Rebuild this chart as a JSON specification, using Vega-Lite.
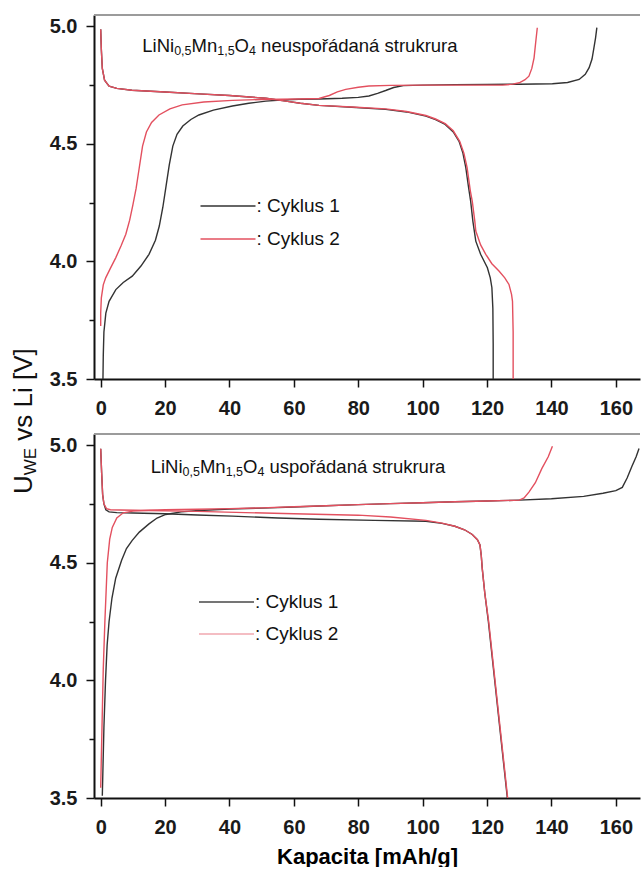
{
  "$schema": "https://vega.github.io/schema/vega-lite/v6.json",
  "autosize": {"type": "pad"},
  "padding": {"left": 10, "top": 14, "right": 0, "bottom": 0},
  "background": "white",
  "spacing": 55,
  "bounds": "flush",
  "config": {
    "view": {"stroke": null},
    "font": "Liberation Sans",
    "axis": {
      "grid": false,
      "domainColor": "#111111",
      "domainWidth": 2,
      "tickColor": "#111111",
      "tickWidth": 1.5,
      "labelFont": "Liberation Sans",
      "labelFontSize": 20,
      "labelFontWeight": "bold",
      "labelColor": "#1a1a1a",
      "labelOverlap": false,
      "labelFlush": false,
      "titleFont": "Liberation Sans"
    },
    "legend": {"padding": 0}
  },
  "resolve": {"scale": {"color": "independent"}, "legend": {"color": "independent"}},
  "datasets": {
    "neusp": [
      {"cyklus": "Cyklus 1", "vetev": "nabíjení", "kapacita": 0.7, "napeti": 3.5},
      {"cyklus": "Cyklus 1", "vetev": "nabíjení", "kapacita": 0.8, "napeti": 3.6},
      {"cyklus": "Cyklus 1", "vetev": "nabíjení", "kapacita": 1.0, "napeti": 3.7},
      {"cyklus": "Cyklus 1", "vetev": "nabíjení", "kapacita": 1.6, "napeti": 3.78},
      {"cyklus": "Cyklus 1", "vetev": "nabíjení", "kapacita": 2.6, "napeti": 3.83},
      {"cyklus": "Cyklus 1", "vetev": "nabíjení", "kapacita": 4.7, "napeti": 3.88},
      {"cyklus": "Cyklus 1", "vetev": "nabíjení", "kapacita": 7.0, "napeti": 3.91},
      {"cyklus": "Cyklus 1", "vetev": "nabíjení", "kapacita": 9.8, "napeti": 3.937},
      {"cyklus": "Cyklus 1", "vetev": "nabíjení", "kapacita": 12.5, "napeti": 3.98},
      {"cyklus": "Cyklus 1", "vetev": "nabíjení", "kapacita": 15.0, "napeti": 4.03},
      {"cyklus": "Cyklus 1", "vetev": "nabíjení", "kapacita": 17.0, "napeti": 4.09},
      {"cyklus": "Cyklus 1", "vetev": "nabíjení", "kapacita": 18.2, "napeti": 4.15},
      {"cyklus": "Cyklus 1", "vetev": "nabíjení", "kapacita": 19.3, "napeti": 4.23},
      {"cyklus": "Cyklus 1", "vetev": "nabíjení", "kapacita": 20.3, "napeti": 4.32},
      {"cyklus": "Cyklus 1", "vetev": "nabíjení", "kapacita": 21.3, "napeti": 4.41},
      {"cyklus": "Cyklus 1", "vetev": "nabíjení", "kapacita": 22.4, "napeti": 4.49},
      {"cyklus": "Cyklus 1", "vetev": "nabíjení", "kapacita": 23.7, "napeti": 4.54},
      {"cyklus": "Cyklus 1", "vetev": "nabíjení", "kapacita": 25.5, "napeti": 4.575},
      {"cyklus": "Cyklus 1", "vetev": "nabíjení", "kapacita": 28.0, "napeti": 4.603},
      {"cyklus": "Cyklus 1", "vetev": "nabíjení", "kapacita": 30.5, "napeti": 4.622},
      {"cyklus": "Cyklus 1", "vetev": "nabíjení", "kapacita": 35.0, "napeti": 4.643},
      {"cyklus": "Cyklus 1", "vetev": "nabíjení", "kapacita": 40.9, "napeti": 4.66},
      {"cyklus": "Cyklus 1", "vetev": "nabíjení", "kapacita": 46.0, "napeti": 4.672},
      {"cyklus": "Cyklus 1", "vetev": "nabíjení", "kapacita": 51.3, "napeti": 4.681},
      {"cyklus": "Cyklus 1", "vetev": "nabíjení", "kapacita": 56.0, "napeti": 4.686},
      {"cyklus": "Cyklus 1", "vetev": "nabíjení", "kapacita": 61.6, "napeti": 4.689},
      {"cyklus": "Cyklus 1", "vetev": "nabíjení", "kapacita": 67.8, "napeti": 4.69},
      {"cyklus": "Cyklus 1", "vetev": "nabíjení", "kapacita": 75.0, "napeti": 4.693},
      {"cyklus": "Cyklus 1", "vetev": "nabíjení", "kapacita": 80.0, "napeti": 4.697},
      {"cyklus": "Cyklus 1", "vetev": "nabíjení", "kapacita": 83.3, "napeti": 4.703},
      {"cyklus": "Cyklus 1", "vetev": "nabíjení", "kapacita": 86.0, "napeti": 4.714},
      {"cyklus": "Cyklus 1", "vetev": "nabíjení", "kapacita": 88.5, "napeti": 4.726},
      {"cyklus": "Cyklus 1", "vetev": "nabíjení", "kapacita": 91.0, "napeti": 4.739},
      {"cyklus": "Cyklus 1", "vetev": "nabíjení", "kapacita": 94.0, "napeti": 4.747},
      {"cyklus": "Cyklus 1", "vetev": "nabíjení", "kapacita": 100.0, "napeti": 4.749},
      {"cyklus": "Cyklus 1", "vetev": "nabíjení", "kapacita": 110.0, "napeti": 4.751},
      {"cyklus": "Cyklus 1", "vetev": "nabíjení", "kapacita": 120.0, "napeti": 4.752},
      {"cyklus": "Cyklus 1", "vetev": "nabíjení", "kapacita": 130.0, "napeti": 4.753},
      {"cyklus": "Cyklus 1", "vetev": "nabíjení", "kapacita": 140.3, "napeti": 4.755},
      {"cyklus": "Cyklus 1", "vetev": "nabíjení", "kapacita": 145.0, "napeti": 4.76},
      {"cyklus": "Cyklus 1", "vetev": "nabíjení", "kapacita": 148.6, "napeti": 4.773},
      {"cyklus": "Cyklus 1", "vetev": "nabíjení", "kapacita": 150.5, "napeti": 4.795},
      {"cyklus": "Cyklus 1", "vetev": "nabíjení", "kapacita": 151.7, "napeti": 4.823},
      {"cyklus": "Cyklus 1", "vetev": "nabíjení", "kapacita": 152.6, "napeti": 4.86},
      {"cyklus": "Cyklus 1", "vetev": "nabíjení", "kapacita": 153.2, "napeti": 4.908},
      {"cyklus": "Cyklus 1", "vetev": "nabíjení", "kapacita": 153.7, "napeti": 4.95},
      {"cyklus": "Cyklus 1", "vetev": "nabíjení", "kapacita": 154.1, "napeti": 4.993},

      {"cyklus": "Cyklus 1", "vetev": "vybíjení", "kapacita": 0.0, "napeti": 4.986},
      {"cyklus": "Cyklus 1", "vetev": "vybíjení", "kapacita": 0.2, "napeti": 4.9},
      {"cyklus": "Cyklus 1", "vetev": "vybíjení", "kapacita": 0.5, "napeti": 4.82},
      {"cyklus": "Cyklus 1", "vetev": "vybíjení", "kapacita": 1.2, "napeti": 4.77},
      {"cyklus": "Cyklus 1", "vetev": "vybíjení", "kapacita": 2.6, "napeti": 4.745},
      {"cyklus": "Cyklus 1", "vetev": "vybíjení", "kapacita": 5.0, "napeti": 4.735},
      {"cyklus": "Cyklus 1", "vetev": "vybíjení", "kapacita": 9.7, "napeti": 4.727},
      {"cyklus": "Cyklus 1", "vetev": "vybíjení", "kapacita": 20.0, "napeti": 4.72},
      {"cyklus": "Cyklus 1", "vetev": "vybíjení", "kapacita": 30.5, "napeti": 4.712},
      {"cyklus": "Cyklus 1", "vetev": "vybíjení", "kapacita": 40.0, "napeti": 4.705},
      {"cyklus": "Cyklus 1", "vetev": "vybíjení", "kapacita": 51.3, "napeti": 4.693},
      {"cyklus": "Cyklus 1", "vetev": "vybíjení", "kapacita": 57.5, "napeti": 4.681},
      {"cyklus": "Cyklus 1", "vetev": "vybíjení", "kapacita": 62.0, "napeti": 4.672},
      {"cyklus": "Cyklus 1", "vetev": "vybíjení", "kapacita": 67.8, "napeti": 4.663},
      {"cyklus": "Cyklus 1", "vetev": "vybíjení", "kapacita": 78.0, "napeti": 4.655},
      {"cyklus": "Cyklus 1", "vetev": "vybíjení", "kapacita": 88.5, "napeti": 4.646},
      {"cyklus": "Cyklus 1", "vetev": "vybíjení", "kapacita": 95.0, "napeti": 4.635},
      {"cyklus": "Cyklus 1", "vetev": "vybíjení", "kapacita": 101.0, "napeti": 4.617},
      {"cyklus": "Cyklus 1", "vetev": "vybíjení", "kapacita": 104.0, "napeti": 4.602},
      {"cyklus": "Cyklus 1", "vetev": "vybíjení", "kapacita": 107.0, "napeti": 4.582},
      {"cyklus": "Cyklus 1", "vetev": "vybíjení", "kapacita": 109.5, "napeti": 4.55},
      {"cyklus": "Cyklus 1", "vetev": "vybíjení", "kapacita": 111.3, "napeti": 4.51},
      {"cyklus": "Cyklus 1", "vetev": "vybíjení", "kapacita": 112.5, "napeti": 4.46},
      {"cyklus": "Cyklus 1", "vetev": "vybíjení", "kapacita": 113.4, "napeti": 4.398},
      {"cyklus": "Cyklus 1", "vetev": "vybíjení", "kapacita": 114.2, "napeti": 4.32},
      {"cyklus": "Cyklus 1", "vetev": "vybíjení", "kapacita": 114.9, "napeti": 4.256},
      {"cyklus": "Cyklus 1", "vetev": "vybíjení", "kapacita": 115.6, "napeti": 4.17},
      {"cyklus": "Cyklus 1", "vetev": "vybíjení", "kapacita": 116.5, "napeti": 4.086},
      {"cyklus": "Cyklus 1", "vetev": "vybíjení", "kapacita": 118.0, "napeti": 4.03},
      {"cyklus": "Cyklus 1", "vetev": "vybíjení", "kapacita": 120.1, "napeti": 3.973},
      {"cyklus": "Cyklus 1", "vetev": "vybíjení", "kapacita": 121.0, "napeti": 3.93},
      {"cyklus": "Cyklus 1", "vetev": "vybíjení", "kapacita": 121.5, "napeti": 3.888},
      {"cyklus": "Cyklus 1", "vetev": "vybíjení", "kapacita": 121.8, "napeti": 3.8},
      {"cyklus": "Cyklus 1", "vetev": "vybíjení", "kapacita": 121.9, "napeti": 3.65},
      {"cyklus": "Cyklus 1", "vetev": "vybíjení", "kapacita": 121.9, "napeti": 3.5},

      {"cyklus": "Cyklus 2", "vetev": "nabíjení", "kapacita": 0.0, "napeti": 3.725},
      {"cyklus": "Cyklus 2", "vetev": "nabíjení", "kapacita": 0.0, "napeti": 3.78},
      {"cyklus": "Cyklus 2", "vetev": "nabíjení", "kapacita": 0.2, "napeti": 3.845},
      {"cyklus": "Cyklus 2", "vetev": "nabíjení", "kapacita": 0.8, "napeti": 3.9},
      {"cyklus": "Cyklus 2", "vetev": "nabíjení", "kapacita": 1.55, "napeti": 3.93},
      {"cyklus": "Cyklus 2", "vetev": "nabíjení", "kapacita": 3.0, "napeti": 3.97},
      {"cyklus": "Cyklus 2", "vetev": "nabíjení", "kapacita": 4.66, "napeti": 4.015},
      {"cyklus": "Cyklus 2", "vetev": "nabíjení", "kapacita": 6.3, "napeti": 4.065},
      {"cyklus": "Cyklus 2", "vetev": "nabíjení", "kapacita": 7.8, "napeti": 4.115},
      {"cyklus": "Cyklus 2", "vetev": "nabíjení", "kapacita": 9.0, "napeti": 4.175},
      {"cyklus": "Cyklus 2", "vetev": "nabíjení", "kapacita": 10.0, "napeti": 4.24},
      {"cyklus": "Cyklus 2", "vetev": "nabíjení", "kapacita": 11.0, "napeti": 4.31},
      {"cyklus": "Cyklus 2", "vetev": "nabíjení", "kapacita": 12.0, "napeti": 4.4},
      {"cyklus": "Cyklus 2", "vetev": "nabíjení", "kapacita": 13.0, "napeti": 4.49},
      {"cyklus": "Cyklus 2", "vetev": "nabíjení", "kapacita": 14.2, "napeti": 4.55},
      {"cyklus": "Cyklus 2", "vetev": "nabíjení", "kapacita": 15.8, "napeti": 4.59},
      {"cyklus": "Cyklus 2", "vetev": "nabíjení", "kapacita": 18.1, "napeti": 4.622},
      {"cyklus": "Cyklus 2", "vetev": "nabíjení", "kapacita": 21.5, "napeti": 4.648},
      {"cyklus": "Cyklus 2", "vetev": "nabíjení", "kapacita": 25.3, "napeti": 4.665},
      {"cyklus": "Cyklus 2", "vetev": "nabíjení", "kapacita": 32.0, "napeti": 4.677},
      {"cyklus": "Cyklus 2", "vetev": "nabíjení", "kapacita": 40.9, "napeti": 4.684},
      {"cyklus": "Cyklus 2", "vetev": "nabíjení", "kapacita": 50.0, "napeti": 4.688},
      {"cyklus": "Cyklus 2", "vetev": "nabíjení", "kapacita": 61.6, "napeti": 4.69},
      {"cyklus": "Cyklus 2", "vetev": "nabíjení", "kapacita": 67.8, "napeti": 4.692},
      {"cyklus": "Cyklus 2", "vetev": "nabíjení", "kapacita": 71.0, "napeti": 4.705},
      {"cyklus": "Cyklus 2", "vetev": "nabíjení", "kapacita": 73.5, "napeti": 4.72},
      {"cyklus": "Cyklus 2", "vetev": "nabíjení", "kapacita": 76.1, "napeti": 4.731},
      {"cyklus": "Cyklus 2", "vetev": "nabíjení", "kapacita": 80.0, "napeti": 4.74},
      {"cyklus": "Cyklus 2", "vetev": "nabíjení", "kapacita": 83.3, "napeti": 4.745},
      {"cyklus": "Cyklus 2", "vetev": "nabíjení", "kapacita": 90.0, "napeti": 4.748},
      {"cyklus": "Cyklus 2", "vetev": "nabíjení", "kapacita": 100.0, "napeti": 4.749},
      {"cyklus": "Cyklus 2", "vetev": "nabíjení", "kapacita": 110.0, "napeti": 4.749},
      {"cyklus": "Cyklus 2", "vetev": "nabíjení", "kapacita": 124.8, "napeti": 4.749},
      {"cyklus": "Cyklus 2", "vetev": "nabíjení", "kapacita": 128.0, "napeti": 4.753},
      {"cyklus": "Cyklus 2", "vetev": "nabíjení", "kapacita": 130.0, "napeti": 4.759},
      {"cyklus": "Cyklus 2", "vetev": "nabíjení", "kapacita": 131.8, "napeti": 4.772},
      {"cyklus": "Cyklus 2", "vetev": "nabíjení", "kapacita": 133.0, "napeti": 4.787},
      {"cyklus": "Cyklus 2", "vetev": "nabíjení", "kapacita": 133.9, "napeti": 4.82},
      {"cyklus": "Cyklus 2", "vetev": "nabíjení", "kapacita": 134.6, "napeti": 4.865},
      {"cyklus": "Cyklus 2", "vetev": "nabíjení", "kapacita": 135.1, "napeti": 4.93},
      {"cyklus": "Cyklus 2", "vetev": "nabíjení", "kapacita": 135.6, "napeti": 4.993},

      {"cyklus": "Cyklus 2", "vetev": "vybíjení", "kapacita": 0.0, "napeti": 4.986},
      {"cyklus": "Cyklus 2", "vetev": "vybíjení", "kapacita": 0.2, "napeti": 4.9},
      {"cyklus": "Cyklus 2", "vetev": "vybíjení", "kapacita": 0.5, "napeti": 4.82},
      {"cyklus": "Cyklus 2", "vetev": "vybíjení", "kapacita": 1.2, "napeti": 4.77},
      {"cyklus": "Cyklus 2", "vetev": "vybíjení", "kapacita": 2.6, "napeti": 4.745},
      {"cyklus": "Cyklus 2", "vetev": "vybíjení", "kapacita": 5.0, "napeti": 4.735},
      {"cyklus": "Cyklus 2", "vetev": "vybíjení", "kapacita": 9.7, "napeti": 4.727},
      {"cyklus": "Cyklus 2", "vetev": "vybíjení", "kapacita": 20.0, "napeti": 4.72},
      {"cyklus": "Cyklus 2", "vetev": "vybíjení", "kapacita": 30.5, "napeti": 4.712},
      {"cyklus": "Cyklus 2", "vetev": "vybíjení", "kapacita": 40.0, "napeti": 4.705},
      {"cyklus": "Cyklus 2", "vetev": "vybíjení", "kapacita": 51.3, "napeti": 4.693},
      {"cyklus": "Cyklus 2", "vetev": "vybíjení", "kapacita": 57.5, "napeti": 4.681},
      {"cyklus": "Cyklus 2", "vetev": "vybíjení", "kapacita": 62.0, "napeti": 4.672},
      {"cyklus": "Cyklus 2", "vetev": "vybíjení", "kapacita": 67.8, "napeti": 4.663},
      {"cyklus": "Cyklus 2", "vetev": "vybíjení", "kapacita": 78.0, "napeti": 4.656},
      {"cyklus": "Cyklus 2", "vetev": "vybíjení", "kapacita": 88.5, "napeti": 4.648},
      {"cyklus": "Cyklus 2", "vetev": "vybíjení", "kapacita": 95.0, "napeti": 4.637},
      {"cyklus": "Cyklus 2", "vetev": "vybíjení", "kapacita": 101.0, "napeti": 4.62},
      {"cyklus": "Cyklus 2", "vetev": "vybíjení", "kapacita": 104.0, "napeti": 4.605},
      {"cyklus": "Cyklus 2", "vetev": "vybíjení", "kapacita": 107.0, "napeti": 4.585},
      {"cyklus": "Cyklus 2", "vetev": "vybíjení", "kapacita": 109.5, "napeti": 4.555},
      {"cyklus": "Cyklus 2", "vetev": "vybíjení", "kapacita": 111.5, "napeti": 4.51},
      {"cyklus": "Cyklus 2", "vetev": "vybíjení", "kapacita": 112.8, "napeti": 4.46},
      {"cyklus": "Cyklus 2", "vetev": "vybíjení", "kapacita": 113.8, "napeti": 4.398},
      {"cyklus": "Cyklus 2", "vetev": "vybíjení", "kapacita": 114.8, "napeti": 4.3},
      {"cyklus": "Cyklus 2", "vetev": "vybíjení", "kapacita": 115.4, "napeti": 4.256},
      {"cyklus": "Cyklus 2", "vetev": "vybíjení", "kapacita": 116.2, "napeti": 4.17},
      {"cyklus": "Cyklus 2", "vetev": "vybíjení", "kapacita": 116.5, "napeti": 4.129},
      {"cyklus": "Cyklus 2", "vetev": "vybíjení", "kapacita": 118.0, "napeti": 4.07},
      {"cyklus": "Cyklus 2", "vetev": "vybíjení", "kapacita": 119.6, "napeti": 4.03},
      {"cyklus": "Cyklus 2", "vetev": "vybíjení", "kapacita": 121.5, "napeti": 3.99},
      {"cyklus": "Cyklus 2", "vetev": "vybíjení", "kapacita": 123.7, "napeti": 3.959},
      {"cyklus": "Cyklus 2", "vetev": "vybíjení", "kapacita": 125.5, "napeti": 3.93},
      {"cyklus": "Cyklus 2", "vetev": "vybíjení", "kapacita": 126.8, "napeti": 3.902},
      {"cyklus": "Cyklus 2", "vetev": "vybíjení", "kapacita": 127.6, "napeti": 3.86},
      {"cyklus": "Cyklus 2", "vetev": "vybíjení", "kapacita": 127.9, "napeti": 3.83},
      {"cyklus": "Cyklus 2", "vetev": "vybíjení", "kapacita": 128.1, "napeti": 3.7},
      {"cyklus": "Cyklus 2", "vetev": "vybíjení", "kapacita": 128.1, "napeti": 3.5}
    ],
    "usp": [
      {"cyklus": "Cyklus 1", "vetev": "nabíjení", "kapacita": 0.5, "napeti": 3.51},
      {"cyklus": "Cyklus 1", "vetev": "nabíjení", "kapacita": 1.0, "napeti": 3.8},
      {"cyklus": "Cyklus 1", "vetev": "nabíjení", "kapacita": 1.5, "napeti": 4.0},
      {"cyklus": "Cyklus 1", "vetev": "nabíjení", "kapacita": 2.0, "napeti": 4.15},
      {"cyklus": "Cyklus 1", "vetev": "nabíjení", "kapacita": 2.6, "napeti": 4.25},
      {"cyklus": "Cyklus 1", "vetev": "nabíjení", "kapacita": 3.5, "napeti": 4.35},
      {"cyklus": "Cyklus 1", "vetev": "nabíjení", "kapacita": 4.66, "napeti": 4.434},
      {"cyklus": "Cyklus 1", "vetev": "nabíjení", "kapacita": 6.5, "napeti": 4.51},
      {"cyklus": "Cyklus 1", "vetev": "nabíjení", "kapacita": 8.0, "napeti": 4.56},
      {"cyklus": "Cyklus 1", "vetev": "nabíjení", "kapacita": 9.8, "napeti": 4.595},
      {"cyklus": "Cyklus 1", "vetev": "nabíjení", "kapacita": 12.0, "napeti": 4.63},
      {"cyklus": "Cyklus 1", "vetev": "nabíjení", "kapacita": 15.0, "napeti": 4.665},
      {"cyklus": "Cyklus 1", "vetev": "nabíjení", "kapacita": 17.5, "napeti": 4.69},
      {"cyklus": "Cyklus 1", "vetev": "nabíjení", "kapacita": 20.2, "napeti": 4.705},
      {"cyklus": "Cyklus 1", "vetev": "nabíjení", "kapacita": 25.0, "napeti": 4.716},
      {"cyklus": "Cyklus 1", "vetev": "nabíjení", "kapacita": 30.5, "napeti": 4.722},
      {"cyklus": "Cyklus 1", "vetev": "nabíjení", "kapacita": 40.0, "napeti": 4.728},
      {"cyklus": "Cyklus 1", "vetev": "nabíjení", "kapacita": 50.0, "napeti": 4.732},
      {"cyklus": "Cyklus 1", "vetev": "nabíjení", "kapacita": 60.0, "napeti": 4.737},
      {"cyklus": "Cyklus 1", "vetev": "nabíjení", "kapacita": 70.0, "napeti": 4.742},
      {"cyklus": "Cyklus 1", "vetev": "nabíjení", "kapacita": 80.0, "napeti": 4.747},
      {"cyklus": "Cyklus 1", "vetev": "nabíjení", "kapacita": 90.0, "napeti": 4.751},
      {"cyklus": "Cyklus 1", "vetev": "nabíjení", "kapacita": 100.0, "napeti": 4.755},
      {"cyklus": "Cyklus 1", "vetev": "nabíjení", "kapacita": 110.0, "napeti": 4.759},
      {"cyklus": "Cyklus 1", "vetev": "nabíjení", "kapacita": 120.0, "napeti": 4.762},
      {"cyklus": "Cyklus 1", "vetev": "nabíjení", "kapacita": 130.0, "napeti": 4.766},
      {"cyklus": "Cyklus 1", "vetev": "nabíjení", "kapacita": 140.0, "napeti": 4.772},
      {"cyklus": "Cyklus 1", "vetev": "nabíjení", "kapacita": 150.0, "napeti": 4.782},
      {"cyklus": "Cyklus 1", "vetev": "nabíjení", "kapacita": 156.0, "napeti": 4.795},
      {"cyklus": "Cyklus 1", "vetev": "nabíjení", "kapacita": 160.0, "napeti": 4.806},
      {"cyklus": "Cyklus 1", "vetev": "nabíjení", "kapacita": 162.0, "napeti": 4.82},
      {"cyklus": "Cyklus 1", "vetev": "nabíjení", "kapacita": 163.5, "napeti": 4.86},
      {"cyklus": "Cyklus 1", "vetev": "nabíjení", "kapacita": 165.0, "napeti": 4.91},
      {"cyklus": "Cyklus 1", "vetev": "nabíjení", "kapacita": 166.3, "napeti": 4.95},
      {"cyklus": "Cyklus 1", "vetev": "nabíjení", "kapacita": 167.2, "napeti": 4.985},

      {"cyklus": "Cyklus 1", "vetev": "vybíjení", "kapacita": 0.0, "napeti": 4.984},
      {"cyklus": "Cyklus 1", "vetev": "vybíjení", "kapacita": 0.3, "napeti": 4.88},
      {"cyklus": "Cyklus 1", "vetev": "vybíjení", "kapacita": 0.6, "napeti": 4.79},
      {"cyklus": "Cyklus 1", "vetev": "vybíjení", "kapacita": 1.0, "napeti": 4.75},
      {"cyklus": "Cyklus 1", "vetev": "vybíjení", "kapacita": 1.6, "napeti": 4.725},
      {"cyklus": "Cyklus 1", "vetev": "vybíjení", "kapacita": 2.6, "napeti": 4.716},
      {"cyklus": "Cyklus 1", "vetev": "vybíjení", "kapacita": 5.0, "napeti": 4.713},
      {"cyklus": "Cyklus 1", "vetev": "vybíjení", "kapacita": 10.0, "napeti": 4.711},
      {"cyklus": "Cyklus 1", "vetev": "vybíjení", "kapacita": 20.0, "napeti": 4.708},
      {"cyklus": "Cyklus 1", "vetev": "vybíjení", "kapacita": 30.0, "napeti": 4.703},
      {"cyklus": "Cyklus 1", "vetev": "vybíjení", "kapacita": 40.9, "napeti": 4.698},
      {"cyklus": "Cyklus 1", "vetev": "vybíjení", "kapacita": 55.0, "napeti": 4.69},
      {"cyklus": "Cyklus 1", "vetev": "vybíjení", "kapacita": 67.8, "napeti": 4.685},
      {"cyklus": "Cyklus 1", "vetev": "vybíjení", "kapacita": 85.0, "napeti": 4.68},
      {"cyklus": "Cyklus 1", "vetev": "vybíjení", "kapacita": 101.0, "napeti": 4.676},
      {"cyklus": "Cyklus 1", "vetev": "vybíjení", "kapacita": 106.0, "napeti": 4.667},
      {"cyklus": "Cyklus 1", "vetev": "vybíjení", "kapacita": 110.0, "napeti": 4.655},
      {"cyklus": "Cyklus 1", "vetev": "vybíjení", "kapacita": 113.0, "napeti": 4.64},
      {"cyklus": "Cyklus 1", "vetev": "vybíjení", "kapacita": 115.4, "napeti": 4.62},
      {"cyklus": "Cyklus 1", "vetev": "vybíjení", "kapacita": 117.0, "napeti": 4.598},
      {"cyklus": "Cyklus 1", "vetev": "vybíjení", "kapacita": 117.8, "napeti": 4.575},
      {"cyklus": "Cyklus 1", "vetev": "vybíjení", "kapacita": 118.2, "napeti": 4.53},
      {"cyklus": "Cyklus 1", "vetev": "vybíjení", "kapacita": 118.5, "napeti": 4.476},
      {"cyklus": "Cyklus 1", "vetev": "vybíjení", "kapacita": 119.3, "napeti": 4.37},
      {"cyklus": "Cyklus 1", "vetev": "vybíjení", "kapacita": 120.4, "napeti": 4.25},
      {"cyklus": "Cyklus 1", "vetev": "vybíjení", "kapacita": 126.3, "napeti": 3.5},

      {"cyklus": "Cyklus 2", "vetev": "nabíjení", "kapacita": 0.0, "napeti": 3.544},
      {"cyklus": "Cyklus 2", "vetev": "nabíjení", "kapacita": 0.4, "napeti": 3.8},
      {"cyklus": "Cyklus 2", "vetev": "nabíjení", "kapacita": 0.8, "napeti": 4.05},
      {"cyklus": "Cyklus 2", "vetev": "nabíjení", "kapacita": 1.3, "napeti": 4.25},
      {"cyklus": "Cyklus 2", "vetev": "nabíjení", "kapacita": 2.05, "napeti": 4.5},
      {"cyklus": "Cyklus 2", "vetev": "nabíjení", "kapacita": 2.8, "napeti": 4.6},
      {"cyklus": "Cyklus 2", "vetev": "nabíjení", "kapacita": 3.6, "napeti": 4.65},
      {"cyklus": "Cyklus 2", "vetev": "nabíjení", "kapacita": 5.0, "napeti": 4.69},
      {"cyklus": "Cyklus 2", "vetev": "nabíjení", "kapacita": 7.0, "napeti": 4.712},
      {"cyklus": "Cyklus 2", "vetev": "nabíjení", "kapacita": 10.0, "napeti": 4.719},
      {"cyklus": "Cyklus 2", "vetev": "nabíjení", "kapacita": 15.0, "napeti": 4.723},
      {"cyklus": "Cyklus 2", "vetev": "nabíjení", "kapacita": 20.0, "napeti": 4.725},
      {"cyklus": "Cyklus 2", "vetev": "nabíjení", "kapacita": 30.0, "napeti": 4.727},
      {"cyklus": "Cyklus 2", "vetev": "nabíjení", "kapacita": 40.0, "napeti": 4.73},
      {"cyklus": "Cyklus 2", "vetev": "nabíjení", "kapacita": 50.0, "napeti": 4.733},
      {"cyklus": "Cyklus 2", "vetev": "nabíjení", "kapacita": 60.0, "napeti": 4.738},
      {"cyklus": "Cyklus 2", "vetev": "nabíjení", "kapacita": 70.0, "napeti": 4.742},
      {"cyklus": "Cyklus 2", "vetev": "nabíjení", "kapacita": 80.0, "napeti": 4.747},
      {"cyklus": "Cyklus 2", "vetev": "nabíjení", "kapacita": 90.0, "napeti": 4.751},
      {"cyklus": "Cyklus 2", "vetev": "nabíjení", "kapacita": 100.0, "napeti": 4.755},
      {"cyklus": "Cyklus 2", "vetev": "nabíjení", "kapacita": 110.0, "napeti": 4.759},
      {"cyklus": "Cyklus 2", "vetev": "nabíjení", "kapacita": 120.0, "napeti": 4.762},
      {"cyklus": "Cyklus 2", "vetev": "nabíjení", "kapacita": 130.0, "napeti": 4.766},
      {"cyklus": "Cyklus 2", "vetev": "nabíjení", "kapacita": 131.5, "napeti": 4.775},
      {"cyklus": "Cyklus 2", "vetev": "nabíjení", "kapacita": 133.0, "napeti": 4.8},
      {"cyklus": "Cyklus 2", "vetev": "nabíjení", "kapacita": 135.0, "napeti": 4.84},
      {"cyklus": "Cyklus 2", "vetev": "nabíjení", "kapacita": 137.0, "napeti": 4.9},
      {"cyklus": "Cyklus 2", "vetev": "nabíjení", "kapacita": 139.0, "napeti": 4.95},
      {"cyklus": "Cyklus 2", "vetev": "nabíjení", "kapacita": 140.3, "napeti": 4.995},

      {"cyklus": "Cyklus 2", "vetev": "vybíjení", "kapacita": 0.0, "napeti": 4.984},
      {"cyklus": "Cyklus 2", "vetev": "vybíjení", "kapacita": 0.3, "napeti": 4.88},
      {"cyklus": "Cyklus 2", "vetev": "vybíjení", "kapacita": 0.6, "napeti": 4.79},
      {"cyklus": "Cyklus 2", "vetev": "vybíjení", "kapacita": 1.0, "napeti": 4.75},
      {"cyklus": "Cyklus 2", "vetev": "vybíjení", "kapacita": 1.8, "napeti": 4.73},
      {"cyklus": "Cyklus 2", "vetev": "vybíjení", "kapacita": 3.0, "napeti": 4.725},
      {"cyklus": "Cyklus 2", "vetev": "vybíjení", "kapacita": 6.0, "napeti": 4.724},
      {"cyklus": "Cyklus 2", "vetev": "vybíjení", "kapacita": 15.0, "napeti": 4.722},
      {"cyklus": "Cyklus 2", "vetev": "vybíjení", "kapacita": 30.0, "napeti": 4.718},
      {"cyklus": "Cyklus 2", "vetev": "vybíjení", "kapacita": 45.0, "napeti": 4.713},
      {"cyklus": "Cyklus 2", "vetev": "vybíjení", "kapacita": 60.0, "napeti": 4.708},
      {"cyklus": "Cyklus 2", "vetev": "vybíjení", "kapacita": 70.0, "napeti": 4.705},
      {"cyklus": "Cyklus 2", "vetev": "vybíjení", "kapacita": 80.0, "napeti": 4.702},
      {"cyklus": "Cyklus 2", "vetev": "vybíjení", "kapacita": 90.0, "napeti": 4.694},
      {"cyklus": "Cyklus 2", "vetev": "vybíjení", "kapacita": 101.0, "napeti": 4.68},
      {"cyklus": "Cyklus 2", "vetev": "vybíjení", "kapacita": 106.0, "napeti": 4.668},
      {"cyklus": "Cyklus 2", "vetev": "vybíjení", "kapacita": 110.0, "napeti": 4.655},
      {"cyklus": "Cyklus 2", "vetev": "vybíjení", "kapacita": 113.0, "napeti": 4.64},
      {"cyklus": "Cyklus 2", "vetev": "vybíjení", "kapacita": 115.4, "napeti": 4.62},
      {"cyklus": "Cyklus 2", "vetev": "vybíjení", "kapacita": 117.0, "napeti": 4.598},
      {"cyklus": "Cyklus 2", "vetev": "vybíjení", "kapacita": 117.8, "napeti": 4.575},
      {"cyklus": "Cyklus 2", "vetev": "vybíjení", "kapacita": 118.2, "napeti": 4.53},
      {"cyklus": "Cyklus 2", "vetev": "vybíjení", "kapacita": 118.5, "napeti": 4.476},
      {"cyklus": "Cyklus 2", "vetev": "vybíjení", "kapacita": 119.3, "napeti": 4.37},
      {"cyklus": "Cyklus 2", "vetev": "vybíjení", "kapacita": 120.5, "napeti": 4.25},
      {"cyklus": "Cyklus 2", "vetev": "vybíjení", "kapacita": 126.4, "napeti": 3.5}
    ]
  },
  "vconcat": [
    {
      "width": 546,
      "height": 364,
      "layer": [
        {
          "data": {"name": "neusp"},
          "transform": [{"filter": "datum.cyklus === 'Cyklus 1'"}],
          "mark": {"type": "line", "strokeWidth": 1.4},
          "encoding": {
            "x": {"field": "kapacita", "type": "quantitative",
              "scale": {"domain": [-2.08, 167.5], "nice": false, "zero": false},
              "axis": {"title": null, "values": [0, 10, 20, 30, 40, 50, 60, 70, 80, 90, 100, 110, 120, 130, 140, 150, 160],
                "tickSize": {"condition": {"test": "datum.value % 20 != 0", "value": 5}, "value": 8},
                "labelExpr": "datum.value % 20 == 0 ? datum.label : ''", "labelPadding": 11}},
            "y": {"field": "napeti", "type": "quantitative",
              "scale": {"domain": [3.5, 5.047], "nice": false, "zero": false},
              "axis": {"title": null, "values": [3.5, 3.75, 4, 4.25, 4.5, 4.75, 5],
                "tickSize": {"condition": {"test": "datum.value % 0.5 != 0", "value": 5}, "value": 8},
                "labelExpr": "datum.value % 0.5 == 0 ? format(datum.value, '.1f') : ''", "labelPadding": 9}},
            "color": {"field": "cyklus", "type": "nominal",
              "scale": {"domain": ["Cyklus 1", "Cyklus 2"], "range": ["#333333", "#e3505f"]},
              "legend": {"title": null, "orient": "none", "legendX": 124.5, "legendY": 181.5,
                "symbolType": "M-5,0H5", "symbolSize": 121, "symbolStrokeWidth": 1.4,
                "labelOffset": 19, "labelFontSize": 19, "labelColor": "#111111", "labelFont": "Liberation Sans",
                "labelExpr": "': ' + datum.label", "rowPadding": 13}},
            "detail": {"field": "vetev"},
            "order": {"value": null}
          }
        },
        {
          "data": {"name": "neusp"},
          "transform": [{"filter": "datum.cyklus === 'Cyklus 2'"}],
          "mark": {"type": "line", "strokeWidth": 1.4},
          "encoding": {
            "x": {"field": "kapacita", "type": "quantitative"},
            "y": {"field": "napeti", "type": "quantitative"},
            "color": {"field": "cyklus", "type": "nominal", "legend": null},
            "detail": {"field": "vetev"},
            "order": {"value": null}
          }
        },
        {
          "data": {"values": [{}]},
          "mark": {"type": "rule", "color": "#9b9b9b", "strokeWidth": 2},
          "encoding": {"y": {"datum": 5.047}}
        },
        {"data": {"values": [{}]}, "mark": {"type": "text", "align": "left", "baseline": "alphabetic", "fontSize": 18.5, "color": "#111111"},
          "encoding": {"x": {"datum": 12.92}, "y": {"datum": 4.8895}, "text": {"value": "LiNi"}}},
        {"data": {"values": [{}]}, "mark": {"type": "text", "align": "left", "baseline": "alphabetic", "fontSize": 12.5, "color": "#111111"},
          "encoding": {"x": {"datum": 22.82}, "y": {"datum": 4.877}, "text": {"value": "0,5"}}},
        {"data": {"values": [{}]}, "mark": {"type": "text", "align": "left", "baseline": "alphabetic", "fontSize": 18.5, "color": "#111111"},
          "encoding": {"x": {"datum": 28.21}, "y": {"datum": 4.8895}, "text": {"value": "Mn"}}},
        {"data": {"values": [{}]}, "mark": {"type": "text", "align": "left", "baseline": "alphabetic", "fontSize": 12.5, "color": "#111111"},
          "encoding": {"x": {"datum": 36.2}, "y": {"datum": 4.877}, "text": {"value": "1,5"}}},
        {"data": {"values": [{}]}, "mark": {"type": "text", "align": "left", "baseline": "alphabetic", "fontSize": 18.5, "color": "#111111"},
          "encoding": {"x": {"datum": 41.59}, "y": {"datum": 4.8895}, "text": {"value": "O"}}},
        {"data": {"values": [{}]}, "mark": {"type": "text", "align": "left", "baseline": "alphabetic", "fontSize": 12.5, "color": "#111111"},
          "encoding": {"x": {"datum": 46.06}, "y": {"datum": 4.877}, "text": {"value": "4"}}},
        {"data": {"values": [{}]}, "mark": {"type": "text", "align": "left", "baseline": "alphabetic", "fontSize": 18.5, "color": "#111111"},
          "encoding": {"x": {"datum": 49.82}, "y": {"datum": 4.8895}, "text": {"value": "neuspořádaná strukrura"}}},
        {"data": {"values": [{}]}, "mark": {"type": "text", "align": "left", "baseline": "alphabetic", "angle": 270, "fontSize": 26, "color": "#111111"},
          "encoding": {"x": {"datum": -21.34}, "y": {"datum": 3.0111}, "text": {"value": "U"}}},
        {"data": {"values": [{}]}, "mark": {"type": "text", "align": "left", "baseline": "alphabetic", "angle": 270, "fontSize": 17, "color": "#111111"},
          "encoding": {"x": {"datum": -20.09}, "y": {"datum": 3.0908}, "text": {"value": "WE"}}},
        {"data": {"values": [{}]}, "mark": {"type": "text", "align": "left", "baseline": "alphabetic", "angle": 270, "fontSize": 26, "color": "#111111"},
          "encoding": {"x": {"datum": -21.34}, "y": {"datum": 3.238}, "text": {"value": "vs Li [V]"}}}
      ]
    },
    {
      "width": 546,
      "height": 364,
      "layer": [
        {
          "data": {"name": "usp"},
          "transform": [{"filter": "datum.cyklus === 'Cyklus 1'"}],
          "mark": {"type": "line", "strokeWidth": 1.4},
          "encoding": {
            "x": {"field": "kapacita", "type": "quantitative",
              "scale": {"domain": [-2.08, 167.5], "nice": false, "zero": false},
              "axis": {"title": "Kapacita [mAh/g]", "titleFontSize": 22, "titleFontWeight": "bold", "titleColor": "#000000", "titlePadding": 9,
                "values": [0, 10, 20, 30, 40, 50, 60, 70, 80, 90, 100, 110, 120, 130, 140, 150, 160],
                "tickSize": {"condition": {"test": "datum.value % 20 != 0", "value": 5}, "value": 8},
                "labelExpr": "datum.value % 20 == 0 ? datum.label : ''", "labelPadding": 11}},
            "y": {"field": "napeti", "type": "quantitative",
              "scale": {"domain": [3.5, 5.047], "nice": false, "zero": false},
              "axis": {"title": null, "values": [3.5, 3.75, 4, 4.25, 4.5, 4.75, 5],
                "tickSize": {"condition": {"test": "datum.value % 0.5 != 0", "value": 5}, "value": 8},
                "labelExpr": "datum.value % 0.5 == 0 ? format(datum.value, '.1f') : ''", "labelPadding": 9}},
            "color": {"field": "cyklus", "type": "nominal",
              "scale": {"domain": ["Cyklus 1", "Cyklus 2"], "range": ["#333333", "#e3505f"]},
              "legend": {"title": null, "orient": "none", "legendX": 123, "legendY": 158.5,
                "symbolType": "M-5,0H5", "symbolSize": 121, "symbolStrokeWidth": 1.4,
                "labelOffset": 19, "labelFontSize": 19, "labelColor": "#111111", "labelFont": "Liberation Sans",
                "labelExpr": "': ' + datum.label", "rowPadding": 12,
                "encode": {"symbols": {"update": {"strokeOpacity": {"signal": "datum.value === 'Cyklus 2' ? 0.5 : 0.9"}}}}}},
            "detail": {"field": "vetev"},
            "order": {"value": null}
          }
        },
        {
          "data": {"name": "usp"},
          "transform": [{"filter": "datum.cyklus === 'Cyklus 2'"}],
          "mark": {"type": "line", "strokeWidth": 1.4},
          "encoding": {
            "x": {"field": "kapacita", "type": "quantitative"},
            "y": {"field": "napeti", "type": "quantitative"},
            "color": {"field": "cyklus", "type": "nominal", "legend": null},
            "detail": {"field": "vetev"},
            "order": {"value": null}
          }
        },
        {
          "data": {"values": [{}]},
          "mark": {"type": "rule", "color": "#9b9b9b", "strokeWidth": 2},
          "encoding": {"y": {"datum": 5.047}}
        },
        {"data": {"values": [{}]}, "mark": {"type": "text", "align": "left", "baseline": "alphabetic", "fontSize": 18.5, "color": "#111111"},
          "encoding": {"x": {"datum": 15.53}, "y": {"datum": 4.881}, "text": {"value": "LiNi"}}},
        {"data": {"values": [{}]}, "mark": {"type": "text", "align": "left", "baseline": "alphabetic", "fontSize": 12.5, "color": "#111111"},
          "encoding": {"x": {"datum": 25.42}, "y": {"datum": 4.868}, "text": {"value": "0,5"}}},
        {"data": {"values": [{}]}, "mark": {"type": "text", "align": "left", "baseline": "alphabetic", "fontSize": 18.5, "color": "#111111"},
          "encoding": {"x": {"datum": 30.82}, "y": {"datum": 4.881}, "text": {"value": "Mn"}}},
        {"data": {"values": [{}]}, "mark": {"type": "text", "align": "left", "baseline": "alphabetic", "fontSize": 12.5, "color": "#111111"},
          "encoding": {"x": {"datum": 38.81}, "y": {"datum": 4.868}, "text": {"value": "1,5"}}},
        {"data": {"values": [{}]}, "mark": {"type": "text", "align": "left", "baseline": "alphabetic", "fontSize": 18.5, "color": "#111111"},
          "encoding": {"x": {"datum": 44.2}, "y": {"datum": 4.881}, "text": {"value": "O"}}},
        {"data": {"values": [{}]}, "mark": {"type": "text", "align": "left", "baseline": "alphabetic", "fontSize": 12.5, "color": "#111111"},
          "encoding": {"x": {"datum": 48.67}, "y": {"datum": 4.868}, "text": {"value": "4"}}},
        {"data": {"values": [{}]}, "mark": {"type": "text", "align": "left", "baseline": "alphabetic", "fontSize": 18.5, "color": "#111111"},
          "encoding": {"x": {"datum": 52.43}, "y": {"datum": 4.881}, "text": {"value": "uspořádaná strukrura"}}}
      ]
    }
  ]
}
